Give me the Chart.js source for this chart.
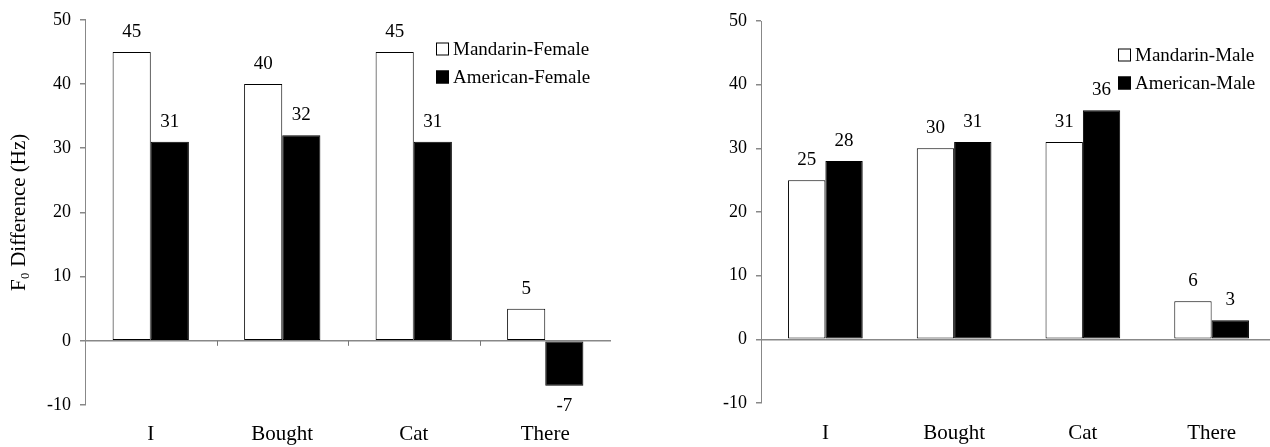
<!DOCTYPE html>
<html>
<head>
<meta charset="utf-8">
<script src="https://cdn.jsdelivr.net/npm/chart.js@4/dist/chart.umd.min.js"></script>
<style>
  html, body { margin: 0; padding: 0; background: #fff; overflow: hidden; width: 1270px; height: 447px; }
  #wrap { position: relative; width: 1270px; height: 447px; overflow: hidden; }
  #c1 { position: absolute; left: 0; top: 0; }
  #c2 { position: absolute; left: 640px; top: 0; }
</style>
</head>
<body>
<div id="wrap">
  <canvas id="c1" width="640" height="447"></canvas>
  <canvas id="c2" width="660" height="447"></canvas>
</div>
<script>
// ---- data ----
const categories = ['I', 'Bought', 'Cat', 'There'];
const mandarinFemale = [45, 40, 45, 5];
const americanFemale = [31, 32, 31, -7];
const mandarinMale = [25, 30, 31, 6];
const americanMale = [28, 31, 36, 3];
const yMin = -10;
const yMax = 50;
const yStep = 10;
const yTitle = 'F\u2080 Difference (Hz)';
const seriesNamesLeft = ['Mandarin-Female', 'American-Female'];
const seriesNamesRight = ['Mandarin-Male', 'American-Male'];

// ---- style ----
const FONT = "'Liberation Serif', 'Times New Roman', serif";
Chart.defaults.font.family = FONT;
Chart.defaults.color = '#000';

const valueLabels = {
  id: 'valueLabels',
  afterDatasetsDraw(chart, args, opts) {
    const ctx = chart.ctx;
    ctx.save();
    ctx.font = opts.size + 'px ' + FONT;
    ctx.fillStyle = '#000';
    ctx.textAlign = 'center';
    ctx.textBaseline = 'middle';
    chart.data.datasets.forEach((ds, di) => {
      const meta = chart.getDatasetMeta(di);
      meta.data.forEach((el, i) => {
        const v = ds.data[i];
        const y = v >= 0 ? el.y - opts.offset : el.y + opts.offset;
        ctx.fillText(String(v), el.x, y);
      });
    });
    ctx.restore();
  }
};

const boxLegend = {
  id: 'boxLegend',
  afterDraw(chart, args, opts) {
    const ctx = chart.ctx;
    ctx.save();
    ctx.font = opts.size + 'px ' + FONT;
    ctx.textAlign = 'left';
    ctx.textBaseline = 'middle';
    chart.data.datasets.forEach((ds, i) => {
      const cy = opts.y + i * opts.gap;
      const bx = opts.x;
      const s = opts.box;
      ctx.fillStyle = ds.backgroundColor;
      ctx.fillRect(bx, cy - s / 2, s, s);
      ctx.strokeStyle = '#000';
      ctx.lineWidth = 1;
      ctx.strokeRect(bx + 0.5, cy - s / 2 + 0.5, s - 1, s - 1);
      ctx.fillStyle = '#000';
      ctx.fillText(ds.label, bx + s + 4, cy + 1);
    });
    ctx.restore();
  }
};

const zeroTicks = {
  id: 'zeroTicks',
  afterDatasetsDraw(chart, args, opts) {
    if (!opts.show) return;
    const xs = chart.scales.x, ys = chart.scales.y;
    const y0 = ys.getPixelForValue(0);
    const ctx = chart.ctx;
    ctx.save();
    ctx.strokeStyle = '#777';
    ctx.lineWidth = 1;
    ctx.beginPath();
    for (let i = 1; i < chart.data.labels.length; i++) {
      const x = Math.round(xs.getPixelForValue(i - 0.5)) + 0.5;
      ctx.moveTo(x, y0);
      ctx.lineTo(x, y0 + 5);
    }
    ctx.stroke();
    ctx.restore();
  }
};

function makeChart(canvasId, names, dataA, dataB, cfg) {
  return new Chart(document.getElementById(canvasId), {
    type: 'bar',
    data: {
      labels: categories,
      datasets: [
        { label: names[0], data: dataA, backgroundColor: '#ffffff', borderColor: '#000', borderWidth: 1, borderSkipped: false },
        { label: names[1], data: dataB, backgroundColor: '#000000', borderColor: '#000', borderWidth: 1, borderSkipped: false }
      ]
    },
    options: {
      responsive: false,
      animation: false,
      events: [],
      layout: { padding: { left: 0, right: cfg.padRight, top: cfg.padTop, bottom: 0 } },
      datasets: { bar: { categoryPercentage: 0.58, barPercentage: 1.0 } },
      plugins: {
        legend: { display: false },
        tooltip: { enabled: false },
        valueLabels: { size: 19, offset: 20 },
        boxLegend: cfg.legend,
        zeroTicks: { show: cfg.zeroTicks }
      },
      scales: {
        x: {
          grid: { display: false, drawTicks: false },
          border: { display: false },
          ticks: { font: { size: 21 }, color: '#000', padding: cfg.xPad, maxRotation: 0 },
          afterFit: (s) => { s.height = cfg.xHeight; }
        },
        y: {
          min: yMin, max: yMax,
          ticks: { stepSize: yStep, font: { size: 18 }, color: '#000', padding: 9 },
          grid: {
            drawOnChartArea: true,
            color: (c) => (c.tick && c.tick.value === 0) ? '#888' : 'rgba(0,0,0,0)',
            lineWidth: 1.5,
            tickColor: '#888',
            tickLength: 5
          },
          border: { display: true, color: '#888', width: 1 },
          title: {
            display: cfg.showTitle,
            text: yTitle,
            font: { size: 21 },
            color: '#000',
            padding: { top: 7, bottom: 0 }
          },
          afterFit: (s) => { s.width = cfg.yWidth; }
        }
      }
    },
    plugins: [valueLabels, boxLegend, zeroTicks]
  });
}

makeChart('c1', seriesNamesLeft, mandarinFemale, americanFemale, {
  padRight: 29, padTop: 19, xHeight: 42, xPad: 17, yWidth: 85, showTitle: true, zeroTicks: true,
  legend: { x: 436, y: 49, gap: 28, box: 13, size: 19 }
});

makeChart('c2', seriesNamesRight, mandarinMale, americanMale, {
  padRight: 24, padTop: 21, xHeight: 44, xPad: 18, yWidth: 121, showTitle: false, zeroTicks: false,
  legend: { x: 478, y: 55, gap: 28, box: 13, size: 19 }
});
</script>
</body>
</html>
